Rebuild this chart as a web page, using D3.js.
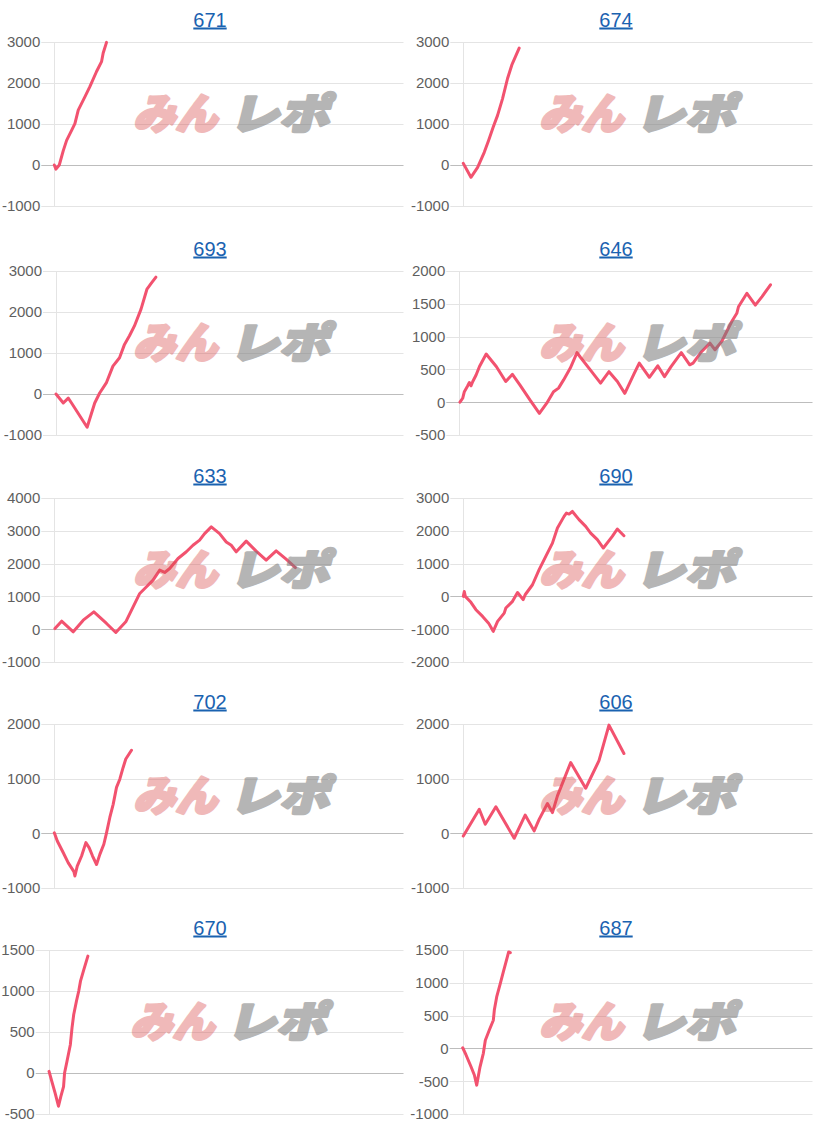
<!DOCTYPE html>
<html>

<head>
    <meta charset="utf-8" />
    <title>みんレポ</title>
    <script src="https://d3js.org/d3.v7.min.js"></script>
    <style>
        body {
            margin: 0;
            background: #fff;
        }

        svg text {
            font-family: Arial, "Liberation Sans", sans-serif;
        }
    </style>
</head>

<body>
    <div id="my_dataviz"></div>
</body>

</html>
<script>
    // machine numbers shown above each small chart
    const titles = ["671", "674", "693", "646", "633", "690", "702", "606", "670", "687"];

    // x axis = games played, same max in every panel
    const xMax = 7000;

    // y tick labels per panel
    const ticks671 = [-1000, 0, 1000, 2000, 3000];
    const ticks674 = [-1000, 0, 1000, 2000, 3000];
    const ticks693 = [-1000, 0, 1000, 2000, 3000];
    const ticks646 = [-500, 0, 500, 1000, 1500, 2000];
    const ticks633 = [-1000, 0, 1000, 2000, 3000, 4000];
    const ticks690 = [-2000, -1000, 0, 1000, 2000, 3000];
    const ticks702 = [-1000, 0, 1000, 2000];
    const ticks606 = [-1000, 0, 1000, 2000];
    const ticks670 = [-500, 0, 500, 1000, 1500];
    const ticks687 = [-1000, -500, 0, 500, 1000, 1500];

    // [game, balance]
    const data671 = [[0, 0], [33, -100], [100, 0], [180, 350], [247, 600], [347, 845], [413, 1010], [480, 1340],
    [613, 1660], [713, 1910], [847, 2280], [947, 2520], [980, 2730], [1047, 2990]];
    const data674 = [[0, 40], [153, -300], [287, -60], [420, 310], [507, 600], [600, 925], [687, 1210], [787, 1620],
    [887, 2110], [973, 2440], [1120, 2850]];
    const data693 = [[0, 0], [147, -220], [247, -100], [313, -220], [627, -810], [780, -220], [880, 25], [1013, 270],
    [1147, 680], [1280, 885], [1380, 1210], [1480, 1420], [1580, 1660], [1713, 2070], [1833, 2560], [1913, 2690], [2013, 2850]];
    const data646 = [[13, 0], [67, 60], [100, 160], [167, 250], [200, 300], [233, 250], [267, 315], [333, 415], [400, 545],
    [533, 735], [600, 670], [733, 545], [920, 315], [1053, 425], [1200, 265], [1400, 35], [1587, -170], [1733, -15],
    [1867, 160], [1967, 215], [2067, 340], [2200, 520], [2333, 755], [2400, 685], [2600, 490], [2800, 290], [2967, 465],
    [3133, 315], [3280, 135], [3467, 440], [3567, 595], [3767, 380], [3933, 555], [4067, 390], [4200, 545], [4400, 755],
    [4567, 570], [4633, 595], [4800, 770], [4967, 900], [5067, 800], [5200, 925], [5400, 1230], [5500, 1355], [5533, 1455],
    [5700, 1660], [5867, 1480], [6000, 1610], [6167, 1790]];
    const data633 = [[13, 20], [147, 245], [380, -80], [580, 275], [793, 530], [1047, 175], [1233, -100], [1433, 225],
    [1580, 680], [1713, 1090], [1813, 1240], [1980, 1495], [2113, 1800], [2213, 1730], [2313, 1850], [2480, 2155],
    [2647, 2360], [2780, 2560], [2913, 2715], [3013, 2915], [3147, 3120], [3313, 2915], [3447, 2660], [3547, 2560],
    [3647, 2360], [3847, 2685], [4047, 2380], [4247, 2105], [4447, 2390], [4647, 2135], [4833, 1880]];
    const data690 = [[0, 0], [20, 150], [40, 0], [153, -180], [253, -405], [387, -610], [507, -815], [600, -1065],
    [687, -760], [820, -510], [853, -355], [987, -150], [1087, 120], [1200, -100], [1240, 50], [1387, 355], [1520, 815],
    [1653, 1220], [1787, 1625], [1887, 2085], [2020, 2440], [2067, 2540], [2120, 2510], [2187, 2590], [2320, 2340],
    [2453, 2135], [2553, 1930], [2687, 1730], [2807, 1475], [2987, 1830], [3087, 2055], [3220, 1850]];
    const data702 = [[0, 10], [60, -140], [180, -355], [280, -540], [393, -700], [413, -780], [460, -600], [547, -415],
    [633, -170], [700, -265], [767, -415], [847, -570], [913, -385], [993, -200], [1047, 10], [1113, 290], [1180, 530],
    [1247, 840], [1313, 990], [1380, 1205], [1433, 1360], [1547, 1520]];
    const data606 = [[0, -50], [320, 440], [440, 165], [653, 485], [1020, -90], [1240, 335], [1420, 45], [1520, 255],
    [1687, 545], [1787, 380], [1887, 685], [2153, 1295], [2453, 825], [2720, 1330], [2920, 1980], [3220, 1460]];
    const data670 = [[7, 20], [60, -100], [127, -245], [193, -405], [240, -285], [293, -165], [313, 0], [360, 140],
    [427, 345], [460, 550], [493, 710], [547, 875], [593, 1000], [627, 1120], [693, 1260], [773, 1425]];
    const data687 = [[0, 10], [67, -100], [167, -280], [233, -405], [280, -560], [347, -280], [413, -75], [453, 125],
    [533, 280], [613, 430], [633, 585], [680, 785], [753, 990], [813, 1165], [867, 1320], [920, 1470], [953, 1460]];

    const allTicks = [ticks671, ticks674, ticks693, ticks646, ticks633, ticks690, ticks702, ticks606, ticks670, ticks687];
    const allData = [data671, data674, data693, data646, data633, data690, data702, data606, data670, data687];

    // layout
    const W = 813, H = 1130;
    const colX = [0, 406], colRight = [403.5, 812.5];
    const rowTop = [42, 271, 498, 724, 950];
    const plotH = 164;
    const plotLeft = [54.3, 57.3, 56, 53.3, 54.3, 57.3, 54.3, 57.3, 48.7, 56.7];

    const svg = d3.select("#my_dataviz")
        .append("svg")
        .attr("width", W)
        .attr("height", H);

    titles.forEach((t, i) => {
        const col = i % 2, row = Math.floor(i / 2);
        const px = colX[col];
        const top = rowTop[row];
        const left = px + plotLeft[i];
        const right = colRight[col];
        const ticks = allTicks[i];

        const x = d3.scaleLinear().domain([0, xMax]).range([left, right]);
        const y = d3.scaleLinear().domain([ticks[0], ticks[ticks.length - 1]]).range([top + plotH, top]);

        const g = svg.append("g");

        // title (link style)
        g.append("text")
            .attr("x", px + 210)
            .attr("y", top - 15.5)
            .attr("text-anchor", "middle")
            .attr("font-size", 20)
            .attr("fill", "#1a62b0")
            .style("text-decoration", "underline")
            .text(t);

        const labelRight = left - 14;

        // gridlines
        g.selectAll("line.grid")
            .data(ticks)
            .join("line")
            .attr("x1", labelRight + 1)
            .attr("x2", right)
            .attr("y1", d => Math.round(y(d)) + 0.5)
            .attr("y2", d => Math.round(y(d)) + 0.5)
            .attr("stroke", d => d === 0 ? "#bdbdbd" : "#e4e4e4")
            .attr("stroke-width", 1);

        // left axis line
        g.append("line")
            .attr("x1", Math.round(left) + 0.5)
            .attr("x2", Math.round(left) + 0.5)
            .attr("y1", top)
            .attr("y2", top + plotH)
            .attr("stroke", "#e4e4e4");

        // tick labels
        g.selectAll("text.tick")
            .data(ticks)
            .join("text")
            .attr("class", "tick")
            .attr("x", labelRight)
            .attr("y", d => y(d))
            .attr("dy", "0.36em")
            .attr("text-anchor", "end")
            .attr("font-size", 15)
            .attr("fill", "#5f5f5f")
            .text(d => d);

        // balance line
        const line = d3.line()
            .x(d => x(d[0]))
            .y(d => y(d[1]));
        g.append("path")
            .datum(allData[i])
            .attr("d", line)
            .attr("fill", "none")
            .attr("stroke", "#f2526f")
            .attr("stroke-width", 3)
            .attr("stroke-linejoin", "round")
            .attr("stroke-linecap", "round");

        // watermark
        const wm = g.append("g")
            .attr("transform", `translate(${px + (i === 8 ? 128 : 131)},${top + 88}) skewX(-14)`);
        wm.append("text")
            .attr("x", 2)
            .attr("y", -1)
            .attr("font-size", 42)
            .attr("textLength", 84)
            .attr("lengthAdjust", "spacingAndGlyphs")
            .attr("fill", "#d84a4a")
            .attr("stroke", "#d84a4a")
            .attr("stroke-width", 3)
            .attr("stroke-linejoin", "round")
            .attr("opacity", 0.38)
            .style("font-family", "'Noto Sans CJK JP', sans-serif")
            .style("font-weight", 900)
            .text("みん");
        wm.append("text")
            .attr("x", 98)
            .attr("y", -1)
            .attr("font-size", 42)
            .attr("textLength", 100)
            .attr("lengthAdjust", "spacingAndGlyphs")
            .attr("fill", "#7a7a7a")
            .attr("stroke", "#7a7a7a")
            .attr("stroke-width", 3)
            .attr("stroke-linejoin", "round")
            .attr("opacity", 0.55)
            .style("font-family", "'Noto Sans CJK JP', sans-serif")
            .style("font-weight", 900)
            .text("レポ");
    });
</script>
